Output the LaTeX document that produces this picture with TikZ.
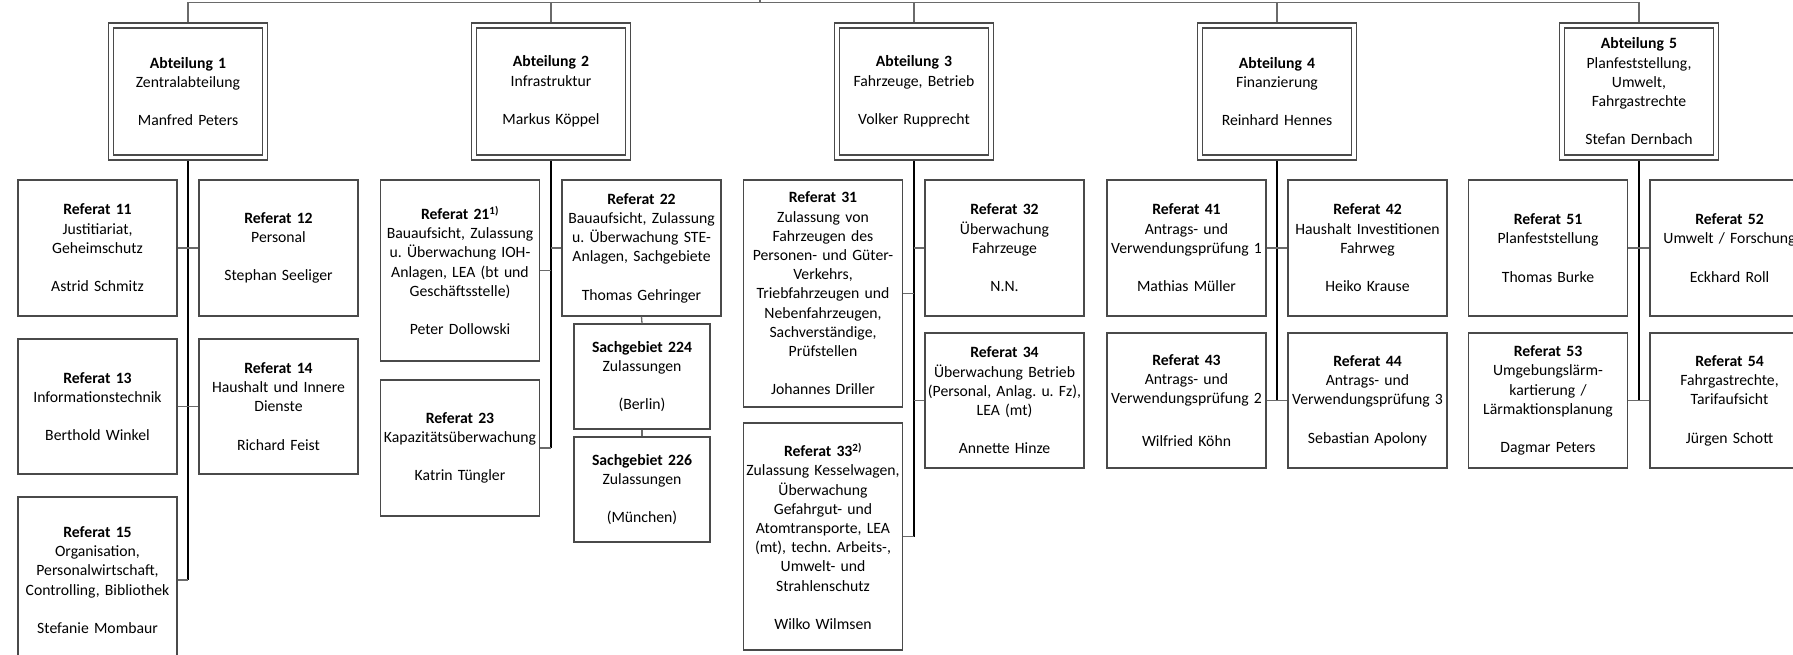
\documentclass[tikz,border=0pt]{standalone}
\usepackage{fontspec}
\setmainfont{Carlito}
\frenchspacing
\definecolor{boxgray}{HTML}{4A4A4A}
\definecolor{linegray}{HTML}{6A6A6A}
\begin{document}
\begin{tikzpicture}[x=1pt,y=-1pt,
  every node/.style={font=\fontsize{15.7}{19.2}\selectfont, align=center, inner sep=2pt,
                     execute at begin node={\hyphenpenalty=10000\exhyphenpenalty=10000\frenchspacing}},
  refbox/.style={draw=boxgray, line width=1.3pt, text width=175pt, inner xsep=-8pt, fill=white},
  sgbox/.style={refbox, text width=152pt},
  abtbox/.style={draw=boxgray, line width=1.4pt, double=white, double distance=3.6pt,
                 text width=164pt, inner xsep=-5pt, inner ysep=3pt, minimum height=132pt},
  trunk/.style={draw=black, line width=1.8pt},
  stub/.style={draw=linegray, line width=1.3pt},
  topline/.style={draw=linegray, line width=1.4pt}]
\useasboundingbox (0,0) rectangle (1793,655);
\clip (0,0) rectangle (1793,655);
\fill[white] (0,0) rectangle (1793,655);

% Abteilungen
\node[abtbox] (a1) at (188,91.5) {\textbf{Abteilung 1}\\Zentralabteilung\\~\\Manfred Peters};
\node[abtbox] (a2) at (551,91.5) {\textbf{Abteilung 2}\\Infrastruktur\\~\\Markus Köppel};
\node[abtbox] (a3) at (914,91.5) {\textbf{Abteilung 3}\\Fahrzeuge, Betrieb\\~\\Volker Rupprecht};
\node[abtbox] (a4) at (1277,91.5) {\textbf{Abteilung 4}\\Finanzierung\\~\\Reinhard Hennes};
\node[abtbox] (a5) at (1639,91.5) {\textbf{Abteilung 5}\\Planfeststellung,\\Umwelt,\\Fahrgastrechte\\~\\Stefan Dernbach};

% Abteilung 1
\node[refbox, minimum height=136pt] (r11) at (97.5,248) {\textbf{Referat 11}\\Justitiariat,\\Geheimschutz\\~\\Astrid Schmitz};
\node[refbox, minimum height=136pt] (r12) at (278.5,248) {\textbf{Referat 12}\\Personal\\~\\Stephan Seeliger};
\node[refbox, minimum height=135pt] (r13) at (97.5,406.5) {\textbf{Referat 13}\\Informationstechnik\\~\\Berthold Winkel};
\node[refbox, minimum height=135pt] (r14) at (278.5,406.5) {\textbf{Referat 14}\\Haushalt und Innere\\Dienste\\~\\Richard Feist};
\node[refbox, minimum height=166pt] (r15) at (97.5,580) {\textbf{Referat 15}\\Organisation,\\Personalwirtschaft,\\Controlling, Bibliothek\\~\\Stefanie Mombaur};

% Abteilung 2
\node[refbox, minimum height=181pt] (r21) at (460,270.5) {\textbf{Referat 21\textsuperscript{1)}}\\Bauaufsicht, Zulassung\\u. Überwachung IOH-\\Anlagen, LEA (bt und\\Geschäftsstelle)\\~\\Peter Dollowski};
\node[refbox, minimum height=136pt] (r22) at (641.5,248) {\textbf{Referat 22}\\Bauaufsicht, Zulassung\\u. Überwachung STE-\\Anlagen, Sachgebiete\\~\\Thomas Gehringer};
\node[sgbox, minimum height=105pt] (s224) at (642,376.5) {\textbf{Sachgebiet 224}\\Zulassungen\\~\\(Berlin)};
\node[sgbox, minimum height=105pt] (s226) at (642,489.5) {\textbf{Sachgebiet 226}\\Zulassungen\\~\\(München)};
\node[refbox, minimum height=136pt] (r23) at (460,448) {\textbf{Referat 23}\\Kapazitätsüberwachung\\~\\Katrin Tüngler};

% Abteilung 3
\node[refbox, minimum height=227pt] (r31) at (823,293.5) {\textbf{Referat 31}\\Zulassung von\\Fahrzeugen des\\Personen- und Güter-\\Verkehrs,\\Triebfahrzeugen und\\Nebenfahrzeugen,\\Sachverständige,\\Prüfstellen\\~\\Johannes Driller};
\node[refbox, minimum height=136pt] (r32) at (1004.5,248) {\textbf{Referat 32}\\Überwachung\\Fahrzeuge\\~\\N.N.};
\node[refbox, minimum height=135pt] (r34) at (1004.5,400.5) {\textbf{Referat 34}\\Überwachung Betrieb\\(Personal, Anlag. u. Fz),\\LEA (mt)\\~\\Annette Hinze};
\node[refbox, minimum height=227pt] (r33) at (823,536.5) {\textbf{Referat 33\textsuperscript{2)}}\\Zulassung Kesselwagen,\\Überwachung\\Gefahrgut- und\\Atomtransporte, LEA\\(mt), techn. Arbeits-,\\Umwelt- und\\Strahlenschutz\\~\\Wilko Wilmsen};

% Abteilung 4
\node[refbox, minimum height=136pt] (r41) at (1186.5,248) {\textbf{Referat 41}\\Antrags- und\\Verwendungsprüfung 1\\~\\Mathias Müller};
\node[refbox, minimum height=136pt] (r42) at (1367.5,248) {\textbf{Referat 42}\\Haushalt Investitionen\\Fahrweg\\~\\Heiko Krause};
\node[refbox, minimum height=135pt] (r43) at (1186.5,400.5) {\textbf{Referat 43}\\Antrags- und\\Verwendungsprüfung 2\\[4pt]~\\Wilfried Köhn};
\node[refbox, minimum height=135pt] (r44) at (1367.5,400.5) {\textbf{Referat 44}\\Antrags- und\\Verwendungsprüfung 3\\~\\Sebastian Apolony};

% Abteilung 5
\node[refbox, minimum height=136pt] (r51) at (1548,248) {\textbf{Referat 51}\\Planfeststellung\\~\\Thomas Burke};
\node[refbox, minimum height=136pt] (r52) at (1729.5,248) {\textbf{Referat 52}\\Umwelt / Forschung\\~\\Eckhard Roll};
\node[refbox, minimum height=135pt] (r53) at (1548,400.5) {\textbf{Referat 53}\\Umgebungslärm-\\kartierung /\\Lärmaktionsplanung\\~\\Dagmar Peters};
\node[refbox, minimum height=135pt] (r54) at (1729.5,400.5) {\textbf{Referat 54}\\Fahrgastrechte,\\Tarifaufsicht\\~\\Jürgen Schott};

% top bus
\coordinate (bus) at (760,2.5);
\coordinate (root) at (760,-8);
\draw[topline] (root) -- (bus);
\draw[topline] ([yshift=3.2pt]a1.north) -- (a1.north |- bus) -- (a5.north |- bus) -- ([yshift=3.2pt]a5.north);
\foreach \a in {a2,a3,a4} \draw[topline] ([yshift=3.2pt]\a.north) -- (\a.north |- bus);

% Abteilung 1 connectors
\draw[trunk] ([yshift=-3.2pt]a1.south) -- (a1.south |- r15.east);
\draw[stub] (r11.east) -- (r12.west);
\draw[stub] (r13.east) -- (r14.west);
\draw[stub] (r15.east) -- (r15.east -| a1.south);

% Abteilung 2 connectors
\draw[trunk] ([yshift=-3.2pt]a2.south) -- (a2.south |- r23.east);
\draw[stub] (r21.east) -- (r21.east -| a2.south);
\draw[stub] (r22.west) -- (r22.west -| a2.south);
\draw[stub] (r23.east) -- (r23.east -| a2.south);
\draw[stub] (r22.south) -- (s224.north);
\draw[stub] (s224.south) -- (s226.north);

% Abteilung 3 connectors
\draw[trunk] ([yshift=-3.2pt]a3.south) -- (a3.south |- r33.east);
\draw[stub] (r31.east) -- (r31.east -| a3.south);
\draw[stub] (r32.west) -- (r32.west -| a3.south);
\draw[stub] (r34.west) -- (r34.west -| a3.south);
\draw[stub] (r33.east) -- (r33.east -| a3.south);

% Abteilung 4 connectors
\draw[trunk] ([yshift=-3.2pt]a4.south) -- (a4.south |- r43.east);
\draw[stub] (r41.east) -- (r42.west);
\draw[stub] (r43.east) -- (r44.west);

% Abteilung 5 connectors
\draw[trunk] ([yshift=-3.2pt]a5.south) -- (a5.south |- r53.east);
\draw[stub] (r51.east) -- (r52.west);
\draw[stub] (r53.east) -- (r54.west);
\end{tikzpicture}
\end{document}
